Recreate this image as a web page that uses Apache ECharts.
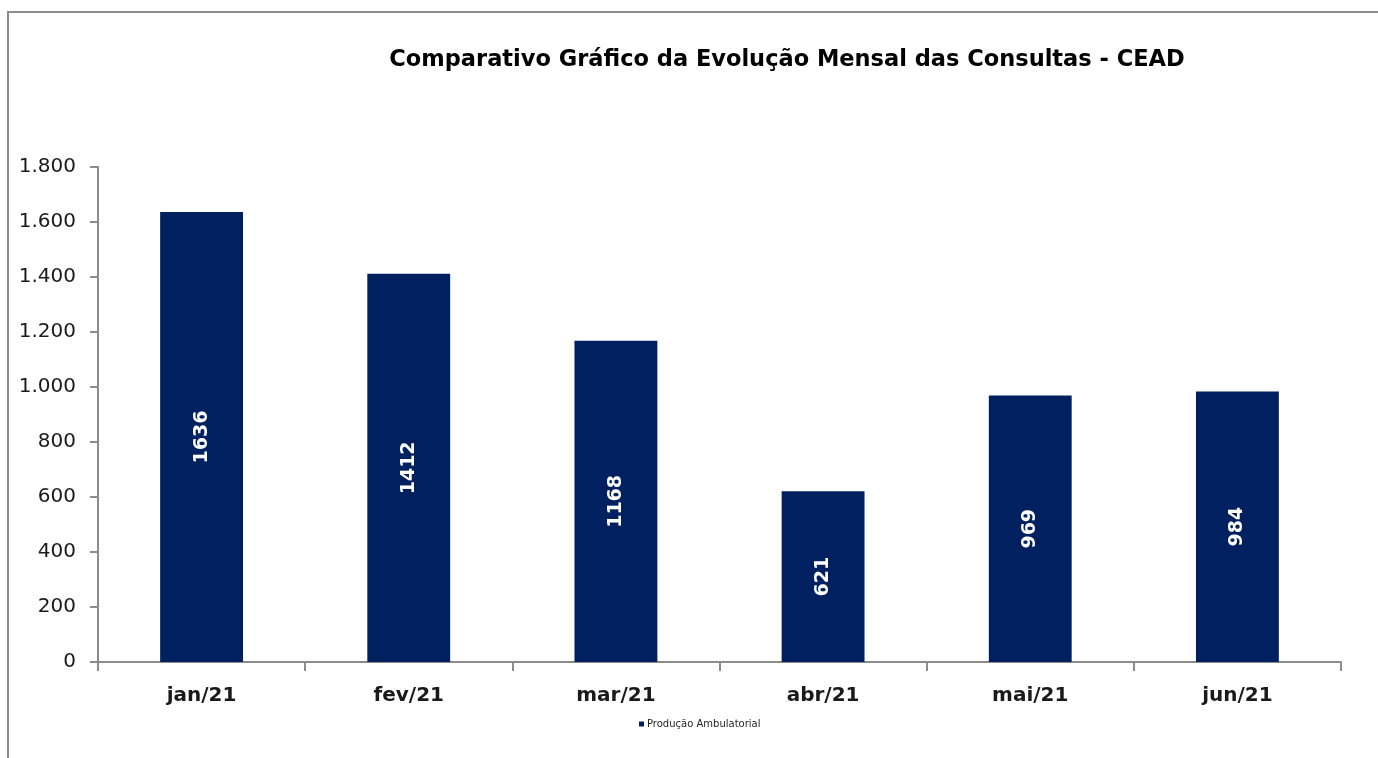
<!DOCTYPE html>
<html>
<head>
<meta charset="utf-8">
<title>Comparativo Gráfico da Evolução Mensal das Consultas - CEAD</title>
<script src="https://cdn.jsdelivr.net/npm/echarts@6/dist/echarts.min.js"></script>
<style>
  html, body { margin: 0; padding: 0; background: #fff; }
  #chart { width: 1378px; height: 758px; }
</style>
</head>
<body>
<div id="chart"></div>
<script>
// meses e consultas
const months = ['jan/21', 'fev/21', 'mar/21', 'abr/21', 'mai/21', 'jun/21']
const consultas = [1636, 1412, 1168, 621, 969, 984]
const seriesName = 'Produção Ambulatorial'
const yMax = 1800
const yStep = 200

const chart = echarts.init(document.getElementById('chart'))

chart.setOption({
    backgroundColor: '#fff',
    animation: false,
    graphic: [{
        // moldura do gráfico
        type: 'rect',
        shape: { x: 8, y: 12, width: 1450, height: 800 },
        style: { fill: 'none', stroke: '#8c8c8c', lineWidth: 2 },
        silent: true
    }],
    title: {
        text: 'Comparativo Gráfico da Evolução Mensal das Consultas - CEAD',
        left: 782,
        top: 44,
        textAlign: 'center',
        textStyle: {
            fontFamily: 'DejaVu Sans',
            fontSize: 22.5,
            fontWeight: 'bold',
            color: '#000'
        }
    },
    legend: {
        data: [seriesName],
        left: 634,
        top: 714,
        icon: 'rect',
        itemWidth: 5,
        itemHeight: 5,
        itemGap: 4,
        textStyle: {
            fontFamily: 'DejaVu Sans',
            fontSize: 10,
            color: '#1f1f1f',
            padding: [0, 0, 0, -2]
        }
    },
    grid: {
        left: 98,
        right: 37,
        top: 167,
        bottom: 96,
        containLabel: false
    },
    xAxis: {
        type: 'category',
        data: months,
        boundaryGap: true,
        axisLine: { lineStyle: { color: '#8c8c8c', width: 2 } },
        axisTick: {
            show: true,
            alignWithLabel: false,
            length: 9,
            lineStyle: { color: '#8c8c8c', width: 2 }
        },
        axisLabel: {
            margin: 24,
            fontFamily: 'DejaVu Sans',
            fontSize: 20,
            fontWeight: 'bold',
            color: '#1a1a1a'
        }
    },
    yAxis: {
        type: 'value',
        min: 0,
        max: yMax,
        interval: yStep,
        splitLine: { show: false },
        axisLine: { show: true, lineStyle: { color: '#8c8c8c', width: 2 } },
        axisTick: {
            show: true,
            length: 8,
            lineStyle: { color: '#8c8c8c', width: 2 }
        },
        axisLabel: {
            margin: 22,
            fontFamily: 'DejaVu Sans',
            fontSize: 20,
            color: '#1a1a1a',
            formatter: v => v.toLocaleString('de-DE')
        }
    },
    series: [{
        name: seriesName,
        type: 'bar',
        data: consultas,
        barWidth: '40%',
        itemStyle: { color: '#002060' },
        label: {
            show: true,
            position: 'inside',
            rotate: 90,
            color: '#fff',
            fontFamily: 'DejaVu Sans',
            fontSize: 19,
            fontWeight: 'bold'
        }
    }]
})
</script>
</body>
</html>
